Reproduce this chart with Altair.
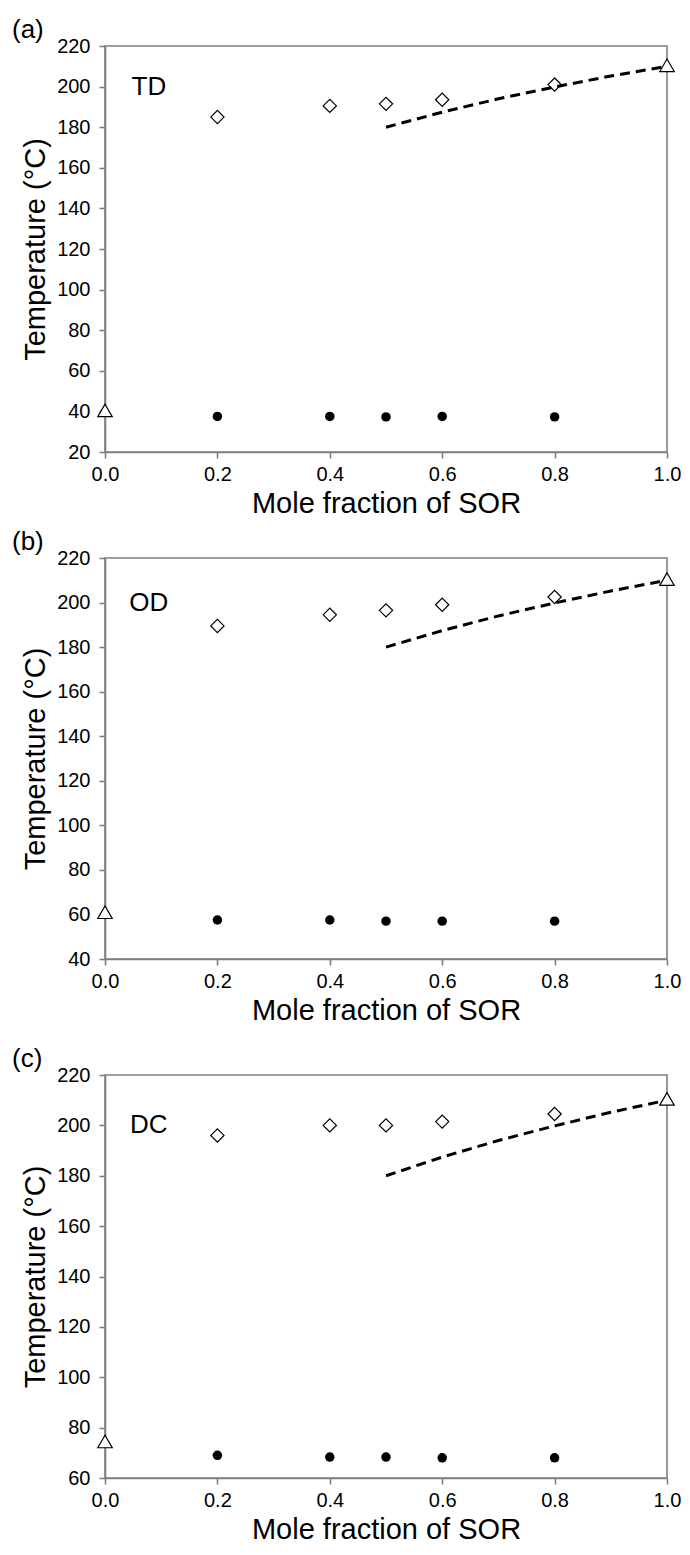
import altair as alt
import pandas as pd

# ---- data ----
x_mix = [0.2, 0.4, 0.5, 0.6, 0.8]
x_pure = [0.0, 1.0]
x_ideal = [0.5, 0.6, 0.7, 0.8, 0.9, 1.0]
t_ideal = [180, 187.4, 194, 199.8, 205.2, 210]

panels = ["(a)", "(b)", "(c)"]
systems = ["TD", "OD", "DC"]
liquidus = [
    [185, 190.5, 191.5, 193.5, 201],
    [189.5, 194.5, 196.5, 199, 202.5],
    [196, 200, 200, 201.5, 204.5],
]
solidus = [
    [37.5, 37.5, 37.3, 37.5, 37.3],
    [57.5, 57.5, 57, 57, 57],
    [69, 68.3, 68.3, 68, 68],
]
pure_t = [[40.5, 210.5], [61, 210.5], [74.5, 210.5]]
y_min = [20, 40, 60]
y_max = 220
x_ticks = [0, 0.2, 0.4, 0.6, 0.8, 1.0]
heights = [406, 401, 403]

FONT = "Liberation Sans"
W = 562
AX = "#7f7f7f"


def panel(i):
    dom = [y_min[i], y_max]
    xs = alt.Scale(domain=[0, 1], nice=False, zero=False)
    ys = alt.Scale(domain=dom, nice=False, zero=False)
    xax = alt.Axis(values=x_ticks, format=".1f", title="Mole fraction of SOR",
                   grid=False, domainColor=AX, domainWidth=1.6, tickColor=AX,
                   tickWidth=1.6, tickSize=6, labelFontSize=20, labelFont=FONT, labelColor="black",
                   labelFlush=False, labelOverlap=False,
                   titleFont=FONT, titleFontSize=29, titleFontWeight="normal", titleColor="black",
                   labelPadding=6, titlePadding=5)
    yax = alt.Axis(values=list(range(y_min[i], y_max + 1, 20)), title="Temperature (°C)",
                   grid=False, domainColor=AX, domainWidth=1.6, tickColor=AX,
                   tickWidth=1.6, tickSize=6, labelFontSize=20, labelFont=FONT, labelColor="black",
                   labelFlush=False, labelOverlap=False,
                   titleFont=FONT, titleFontSize=29, titleFontWeight="normal", titleColor="black",
                   labelPadding=9, titlePadding=6)

    d_liq = pd.DataFrame({"x": x_mix, "t": liquidus[i]})
    d_sol = pd.DataFrame({"x": x_mix, "t": solidus[i]})
    d_pure = pd.DataFrame({"x": x_pure, "t": pure_t[i]})
    d_ideal = pd.DataFrame({"x": x_ideal, "t": t_ideal})
    d_lab = pd.DataFrame({"x": [0.078], "t": [200], "s": [systems[i]]})
    d_pan = pd.DataFrame({"s": [panels[i]]})

    line = alt.Chart(d_ideal).mark_line(color="black", strokeWidth=3, strokeDash=[10, 6]).encode(
        x=alt.X("x:Q", scale=xs, axis=xax), y=alt.Y("t:Q", scale=ys, axis=yax))
    liq = alt.Chart(d_liq).mark_point(shape="diamond", filled=False, color="black", size=175,
                                      strokeWidth=1.2, opacity=1).encode(x="x:Q", y="t:Q")
    sol = alt.Chart(d_sol).mark_circle(color="black", size=90, opacity=1).encode(x="x:Q", y="t:Q")
    pure = alt.Chart(d_pure).mark_point(shape="triangle-up", filled=True, fill="white", stroke="black",
                                        size=210, strokeWidth=1.2, opacity=1).encode(x="x:Q", y="t:Q")
    lab = alt.Chart(d_lab).mark_text(font=FONT, fontSize=26, color="black", align="center",
                                     baseline="middle").encode(x="x:Q", y="t:Q", text="s:N")
    pan = alt.Chart(d_pan).mark_text(font=FONT, fontSize=26, color="black", align="left",
                                     baseline="middle").encode(x=alt.value(-93), y=alt.value(-16), text="s:N")
    return alt.layer(line, liq, sol, pure, lab, pan).properties(width=W, height=heights[i])


top_two = alt.vconcat(panel(0), panel(1), spacing=9)
chart = alt.vconcat(top_two, panel(2), spacing=19).configure_view(
    stroke=AX, strokeWidth=1.6
).properties(padding={"top": 8, "left": 3, "right": 0, "bottom": 0}, background="white")

chart.save("out.html", embed_options={"renderer": "svg", "actions": False})
